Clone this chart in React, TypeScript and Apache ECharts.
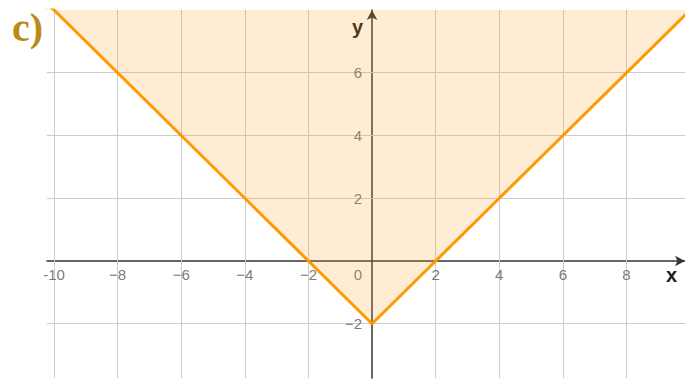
import React, { useEffect, useRef } from "react";
import * as echarts from "echarts";

// Axis extents (data units)
const xExtent = [-10.22, 9.84];
const yExtent = [-3.73, 8];

// Boundary curve y = |x| - 2 (vertices of the V)
const curveX = [-10.5, 0, 10];
const curveY = [8.5, -2, 8];

// Tick labels and grid lines
const xTickValues = [-10, -8, -6, -4, -2, 2, 4, 6, 8];
const yTickValues = [-2, 2, 4, 6];
const originLabel = [0];
const xGridValues = [-10, -8, -6, -4, -2, 2, 4, 6, 8];
const yGridValues = [-2, 2, 4, 6];

const FONT = '"Liberation Sans", Arial, sans-serif';

function fmtX(v: number): string {
  if (v === -10) return "-10";
  return String(v).replace("-", "\u2212");
}
function fmtY(v: number): string {
  return String(v).replace("-", "\u2212");
}

export default function App() {
  const ref = useRef<HTMLDivElement>(null);
  useEffect(() => {
    document.body.style.margin = "0";
    if (!ref.current) return;
    const chart = echarts.init(ref.current, null, { renderer: "svg" });
    const curve = curveX.map((x, i) => [x, curveY[i]]);
    const labelStyle = { color: "#555", fontFamily: FONT, fontSize: 15 };
    chart.setOption({
      animation: false,
      title: {
        text: "c)",
        left: 7,
        top: 2,
        textStyle: {
          fontFamily: '"Liberation Serif", "Times New Roman", serif',
          fontWeight: "bold",
          fontSize: 40,
          color: "#bd8a16",
        },
      },
      grid: { left: 47, right: 0, top: 10, bottom: 3, containLabel: false, outerBoundsMode: "none" },
      xAxis: {
        type: "value",
        min: xExtent[0],
        max: xExtent[1],
        splitLine: { show: false },
        axisTick: { show: false },
        axisLabel: { show: false },
        axisLine: {
          onZero: true,
          symbol: ["none", "arrow"],
          symbolSize: [8, 10],
          lineStyle: { color: "#333", width: 1.5 },
        },
        name: "x",
        nameLocation: "end",
        nameGap: -8,
        nameTextStyle: {
          align: "right",
          verticalAlign: "top",
          padding: [4, 0, 0, 0],
          color: "#1e1e1e",
          fontWeight: "bold",
          fontSize: 20,
          fontFamily: FONT,
        },
      },
      yAxis: {
        type: "value",
        min: yExtent[0],
        max: yExtent[1],
        splitLine: { show: false },
        axisTick: { show: false },
        axisLabel: { show: false },
        axisLine: {
          onZero: true,
          symbol: ["none", "arrow"],
          symbolSize: [8, 10],
          lineStyle: { color: "#333", width: 1.5 },
        },
        name: "y",
        nameLocation: "end",
        nameGap: -17,
        nameTextStyle: {
          align: "right",
          verticalAlign: "middle",
          padding: [0, 9, 0, 0],
          color: "#1e1e1e",
          fontWeight: "bold",
          fontSize: 20,
          fontFamily: FONT,
        },
      },
      series: [
        {
          type: "line",
          data: [],
          z: 1,
          silent: true,
          markLine: {
            z: 1,
            silent: true,
            symbol: ["none", "none"],
            label: { show: false },
            lineStyle: { type: "solid", color: "#cccccc", width: 1 },
            emphasis: { disabled: true },
            data: [
              ...xGridValues.map((v) => ({ xAxis: v })),
              ...yGridValues.map((v) => ({ yAxis: v })),
            ],
          },
        },
        {
          type: "scatter",
          z: 3,
          silent: true,
          symbolSize: 0,
          data: xTickValues.map((v) => [v, 0]),
          label: {
            show: true,
            position: "bottom",
            distance: 6,
            formatter: (p: any) => fmtX(p.value[0]),
            ...labelStyle,
          },
        },
        {
          type: "scatter",
          z: 3,
          silent: true,
          symbolSize: 0,
          data: yTickValues.map((v) => [0, v]),
          label: {
            show: true,
            position: "left",
            distance: 10,
            formatter: (p: any) => fmtY(p.value[1]),
            ...labelStyle,
          },
        },
        {
          type: "scatter",
          z: 3,
          silent: true,
          symbolSize: 0,
          data: originLabel.map((v) => [v, v]),
          label: {
            show: true,
            position: "bottom",
            distance: 6,
            offset: [-14, 0],
            formatter: (p: any) => String(p.value[0]),
            ...labelStyle,
          },
        },
        {
          type: "line",
          z: 10,
          data: curve,
          symbol: "none",
          silent: true,
          clip: true,
          lineStyle: { color: "#ff9a00", width: 3 },
          areaStyle: { origin: "end", color: "rgba(255,160,40,0.28)" },
        },
      ],
    });
    return () => chart.dispose();
  }, []);
  return <div ref={ref} style={{ width: 685, height: 381 }} />;
}
